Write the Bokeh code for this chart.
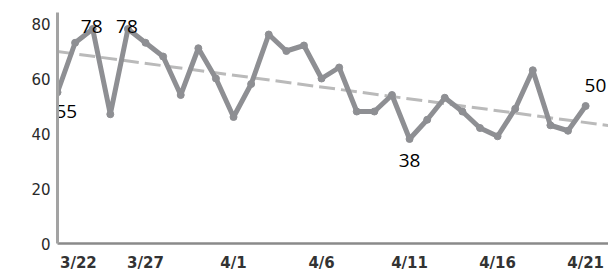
import numpy as np
from bokeh.plotting import figure
from bokeh.models import FixedTicker
from bokeh.core.properties import value
from bokeh.embed import file_html
from bokeh.resources import INLINE

# ---- data ----
DAYS = list(range(31))  # day index from 3/22 to 4/21
VALUES = [55, 73, 78, 47, 78, 73, 68, 54, 71, 60, 46, 58, 76, 70, 72, 60,
          64, 48, 48, 54, 38, 45, 53, 48, 42, 39, 49, 63, 43, 41, 50]
TICK_DAYS = [0, 5, 10, 15, 20, 25, 30]
TICK_LABELS = ["3/22", "3/27", "4/1", "4/6", "4/11", "4/16", "4/21"]
Y_TICKS = [0, 20, 40, 60, 80]
LABEL_DAYS = [0, 2, 4, 20, 30]

LINE_COLOR = "#8e8f93"
TREND_COLOR = "#bababa"

p = figure(width=608, height=274, output_backend="svg", toolbar_location=None,
           x_range=(0, 31.3), y_range=(0, 84.0),
           min_border_left=57, min_border_right=0, min_border_top=12,
           min_border_bottom=29)
p.outline_line_color = None
p.grid.visible = False
p.background_fill_color = "white"
p.border_fill_color = "white"

# linear trend line (computed from the data)
coef = np.polyfit(DAYS, VALUES, 1)
tx = [DAYS[0], DAYS[-1] + 2]
ty = list(np.polyval(coef, tx))
p.line(tx, ty, line_color=TREND_COLOR, line_width=3, line_dash="16 6")

# main series
p.line(DAYS, VALUES, line_color=LINE_COLOR, line_width=5, line_join="round")
p.scatter(DAYS, VALUES, size=7, fill_color=LINE_COLOR, line_color=LINE_COLOR)

# data labels
lab = {d: VALUES[d] for d in LABEL_DAYS}
font = value("Open Sans")
common = dict(text_font=font, text_font_size="19px", text_color="#000000",
              text_baseline="middle")
d0 = LABEL_DAYS[0]
p.text([d0], [lab[d0]], text=[str(lab[d0])], text_align="left",
       x_offset=-2, y_offset=19, **common)
top = LABEL_DAYS[1:3]
p.text(top, [lab[d] for d in top], text=[str(lab[d]) for d in top],
       text_align="center", x_offset=-1, y_offset=-3, **common)
d20 = LABEL_DAYS[3]
p.text([d20], [lab[d20]], text=[str(lab[d20])], text_align="center",
       y_offset=21, **common)
d30 = LABEL_DAYS[4]
p.text([d30], [lab[d30]], text=[str(lab[d30])], text_align="left",
       x_offset=-1, y_offset=-21, **common)

# axes
FIG_SP = "\u2007"
p.xaxis.ticker = FixedTicker(ticks=TICK_DAYS)
p.xaxis.major_label_overrides = {d: (FIG_SP * 4 + t if i == 0 else t)
                                 for i, (d, t) in enumerate(zip(TICK_DAYS, TICK_LABELS))}
p.xaxis.major_label_text_font = "DejaVu Sans"
p.xaxis.major_label_text_font_style = "bold"
p.xaxis.major_label_text_font_size = "15px"
p.xaxis.major_label_text_color = "#333333"
p.xaxis.major_label_standoff = 10
p.xaxis.axis_line_color = "#8a8a8a"
p.xaxis.axis_line_width = 2.5
p.xaxis.major_tick_line_color = None
p.xaxis.minor_tick_line_color = None
p.xaxis.major_tick_out = 0
p.xaxis.major_tick_in = 0

p.yaxis.ticker = FixedTicker(ticks=Y_TICKS)
p.yaxis.major_label_text_font = "DejaVu Sans"
p.yaxis.major_label_text_font_size = "15px"
p.yaxis.major_label_text_color = "#2a2a2a"
p.yaxis.major_label_standoff = 7
p.yaxis.axis_line_color = "#a3a3a3"
p.yaxis.axis_line_width = 3
p.yaxis.major_tick_line_color = None
p.yaxis.minor_tick_line_color = None
p.yaxis.major_tick_out = 0
p.yaxis.major_tick_in = 0

open("out.html", "w").write(file_html(p, INLINE))
